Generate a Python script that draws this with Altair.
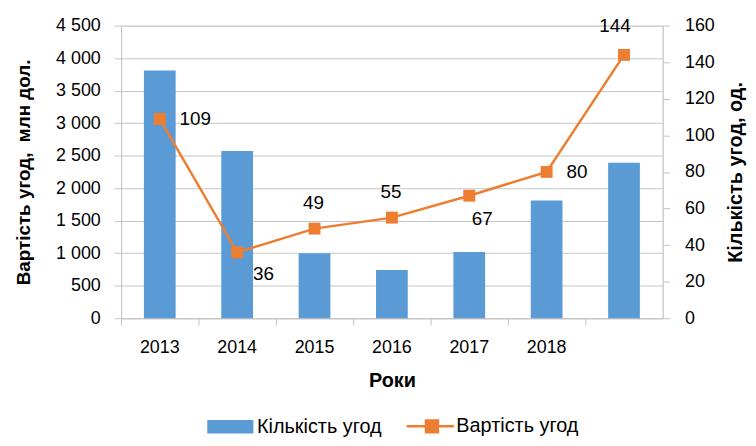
import altair as alt
import pandas as pd

# ---- data ----
years = ["2013", "2014", "2015", "2016", "2017", "2018", " "]
bar_values = [3810, 2570, 1000, 740, 1020, 1810, 2390]   # bars, left axis
line_values = [109, 36, 49, 55, 67, 80, 144]              # line, right axis
bar_name = "Кількість угод"
line_name = "Вартість угод"
left_ticks = [0, 500, 1000, 1500, 2000, 2500, 3000, 3500, 4000, 4500]
right_ticks = [0, 20, 40, 60, 80, 100, 120, 140, 160]

df = pd.DataFrame({"year": years, "bars": bar_values, "line": line_values})

FONT = "Liberation Sans"
BLUE = "#5B9BD5"
ORANGE = "#ED7D31"
GRID = "#c4c4c4"
W, H = 546, 295
TOTAL_W = 746

color_scale = alt.Scale(domain=[bar_name, line_name], range=[BLUE, ORANGE])

is_bar = f"datum.value === '{bar_name}'"
bar_sym = "M-1.17,-0.226H0.38V0.226H-1.17Z"
line_sym = "M-1.17,0H0.415M-0.52,-0.2H-0.12V0.2H-0.52Z"
legend = alt.Legend(
    orient="none", legendX=112, legendY=394, direction="horizontal", title=None,
    symbolSize=3600, labelFontSize=20, labelFont=FONT, labelColor="#000",
    labelOffset=5, columnPadding=19, symbolOpacity=1,
    symbolType={"expr": f"{is_bar} ? '{bar_sym}' : '{line_sym}'"},
    symbolFillColor={"expr": f"{is_bar} ? '{BLUE}' : '{ORANGE}'"},
    symbolStrokeColor={"expr": f"{is_bar} ? '{BLUE}' : '{ORANGE}'"},
    symbolStrokeWidth={"expr": f"{is_bar} ? 0 : 2.5"},
)

x_enc = alt.X(
    "year:N", sort=years,
    scale=alt.Scale(paddingInner=0, paddingOuter=0),
    axis=alt.Axis(title="Роки", labelAngle=0, bandPosition=0,
                  tickSize=7, labelPadding=14, titlePadding=14, grid=False,
                  domainColor=GRID, tickColor=GRID, labelFontSize=18,
                  titleFontSize=20, titleFontWeight="bold"),
)

y_left = alt.Y(
    "bars:Q", scale=alt.Scale(domain=[0, 4500], nice=False),
    axis=alt.Axis(values=left_ticks, title="Вартість угод,\u00a0 млн дол.",
                  grid=True, gridColor=GRID, domainColor=GRID, tickColor=GRID,
                  tickSize=7, labelPadding=14, titlePadding=22,
                  labelExpr="replace(format(datum.value, ','), ',', ' ')",
                  labelFontSize=18, titleFontSize=19, titleFontWeight="bold"),
)

y_right = alt.Y(
    "line:Q", scale=alt.Scale(domain=[0, 160], nice=False),
    axis=alt.Axis(values=right_ticks, title="Кількість угод, од.", orient="right",
                  titleAngle=270, grid=False, domainColor=GRID, tickColor=GRID,
                  tickSize=7, labelPadding=15, titlePadding=31, labelFontSize=18,
                  titleFontSize=20, titleFontWeight="bold"),
)

base = alt.Chart(df)

bars = base.transform_calculate(series=f"'{bar_name}'").mark_bar(size=32).encode(
    x=x_enc, y=y_left,
    color=alt.Color("series:N", scale=color_scale, legend=legend),
)

line = base.transform_calculate(series=f"'{line_name}'").mark_line(
    strokeWidth=2.5,
    point=alt.OverlayMarkDef(shape="square", size=144, filled=True, opacity=1),
).encode(
    x=x_enc, y=y_right,
    color=alt.Color("series:N", scale=color_scale, legend=legend),
)


def labels(sel, align, dx, dy):
    return base.transform_filter(
        alt.FieldOneOfPredicate(field="year", oneOf=sel)
    ).mark_text(align=align, baseline="middle", dx=dx, dy=dy, fontSize=19,
                font=FONT, color="#000").encode(x=x_enc, y=y_right, text="line:Q")


line_layer = alt.layer(
    line,
    labels(["2013", "2018"], "left", 20, 0),
    labels(["2014"], "left", 16, 22),
    labels(["2017"], "center", 13, 24),
    labels(["2015", "2016"], "center", -1, -26),
    labels([" "], "center", -9, -29),
)

chart = alt.layer(bars, line_layer).resolve_scale(y="independent").properties(
    width=W, height=H,
    autosize=alt.AutoSizeParams(type="none"),
    padding={"left": 114, "top": 16, "right": TOTAL_W - 114 - W, "bottom": 430 - 16 - H},
    background="white",
).configure_view(stroke=None).configure(font=FONT).configure_axis(
    labelFont=FONT, titleFont=FONT, labelColor="#000", titleColor="#000"
)

chart.save("out.html", embed_options={"renderer": "svg", "actions": False})
